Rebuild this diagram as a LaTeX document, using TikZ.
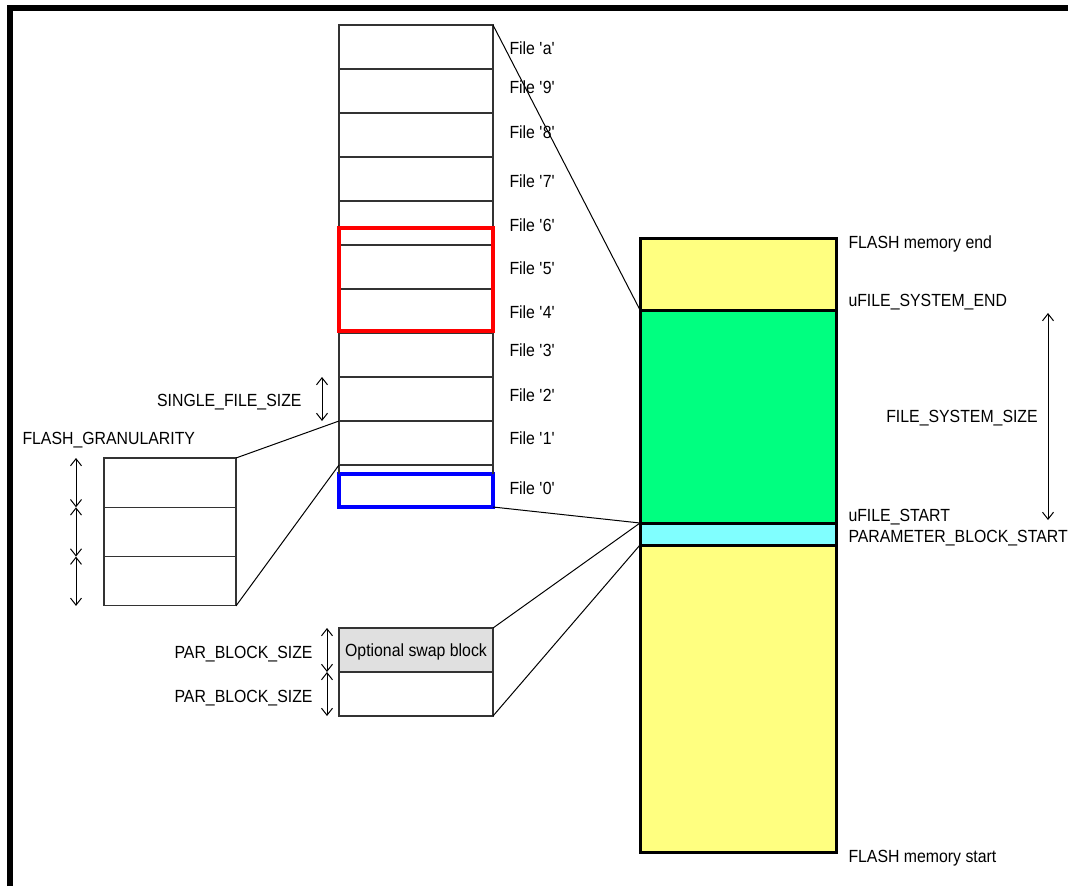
\documentclass[tikz,border=0pt]{standalone}
\usepackage{fontspec}
\setmainfont{Liberation Sans}[FakeStretch=0.9]
\usetikzlibrary{arrows.meta}
\definecolor{memyellow}{RGB}{255,255,128}
\definecolor{memgreen}{RGB}{0,255,128}
\definecolor{memcyan}{RGB}{128,255,255}
\definecolor{swapgray}{RGB}{224,224,224}
\tikzset{
  lbl/.style={font=\fontsize{17.6}{20}\selectfont, inner sep=0pt, text height=12.6pt, text depth=0pt},
  cell/.style={draw=black!80, line width=1.1pt, outer sep=0pt, inner sep=0pt, minimum width=154pt, anchor=north west},
  region/.style={draw, line width=3pt, outer sep=0pt, inner sep=0pt, minimum width=196pt, anchor=north west},
  dim/.style={{Straight Barb[length=7pt,width=11pt]}-{Straight Barb[length=7pt,width=11pt]}, line width=1pt},
}

\begin{document}
\begin{tikzpicture}[x=1pt, y=-1pt, line width=1pt]
  \useasboundingbox (0,0) rectangle (1068,886);
  % Frame
  \draw[line width=5.5pt] (10,886) -- (10,8) -- (1068,8);

  % File column
  \foreach \n [count=\i from 0] in {a,9,8,7,6,5,4,3,2,1}
    \node[cell, minimum height=44pt] (f\n) at (339,25+44*\i) {};
  \node[cell, draw=blue, line width=3.2pt, minimum height=33pt] (f0) at (339,474) {};
  \draw[black!80, line width=1.1pt] (f1.south west) -- (f0.north west)
    (f1.south east) -- (f0.north east);
  \node[cell, draw=red, line width=3.2pt, minimum height=103pt] (sector) at (339,228) {};

  % File labels
  \foreach \n/\y in {a/48,9/87,8/132,7/181,6/225,5/268,4/312,3/350,2/395,1/438,0/488}
    \node[lbl, anchor=west] (l\n) at (509,\y) {File \textquotesingle\n\textquotesingle};

  % Flash granularity blocks
  \foreach \i in {0,1,2} {
    \node[cell, minimum width=132pt, minimum height=49.3pt] (g\i) at (104,458+49.3*\i) {};
    \draw[dim] ([xshift=-28pt]g\i.north west) -- ([xshift=-28pt]g\i.south west);
  }
  \draw (g0.north east) -- (f1.north west);
  \draw (g2.south east) -- (f1.south west);
  \node[lbl, anchor=west] (granlbl) at (22,438) {FLASH\_GRANULARITY};

  \draw[dim] ([xshift=-17pt]f2.north west) -- ([xshift=-17pt]f2.south west);
  \node[lbl, anchor=east] (singlelbl) at (302,400) {SINGLE\_FILE\_SIZE};

  % Parameter blocks
  \node[cell, lbl, fill=swapgray, minimum height=44pt] (swap) at (339,628) {Optional swap block};
  \node[cell, minimum height=44pt] (parblk) at (339,672) {};
  \draw[dim] ([xshift=-12pt]swap.north west) -- ([xshift=-12pt]swap.south west);
  \draw[dim] ([xshift=-12pt]parblk.north west) -- ([xshift=-12pt]parblk.south west);
  \node[lbl, anchor=east] (swaplbl) at (313,652) {PAR\_BLOCK\_SIZE};
  \node[lbl, anchor=east] (parlbl) at (313,696) {PAR\_BLOCK\_SIZE};

  % FLASH memory
  \node[region, fill=memyellow, minimum height=72pt] (flashtop) at (640,238) {};
  \node[region, fill=memgreen, minimum height=213pt] (fsys) at (640,310) {};
  \node[region, fill=memcyan, minimum height=22pt] (param) at (640,523) {};
  \node[region, fill=memyellow, minimum height=307pt] (flashlow) at (640,545) {};

  \draw (fa.north east) -- (fsys.north west);
  \draw (f0.south east) -- (param.north west);
  \draw (swap.north east) -- (param.north west);
  \draw (parblk.south east) -- (param.south west);

  % Memory labels
  \node[lbl, anchor=west] (memend) at (848,242) {FLASH memory end};
  \node[lbl, anchor=west] (fsend) at (848,300) {uFILE\_SYSTEM\_END};
  \node[lbl, anchor=west] (fsstart) at (848,515) {uFILE\_START};
  \node[lbl, anchor=west] (parstart) at (848,536) {PARAMETER\_BLOCK\_START};
  \node[lbl, anchor=west] (memstart) at (848,856) {FLASH memory start};
  \node[lbl] (fssize) at (962,416) {FILE\_SYSTEM\_SIZE};
  \coordinate (fstop) at (1048,313);
  \coordinate (fsbot) at (1048,520);
  \draw[dim] (fstop) -- (fsbot);
\end{tikzpicture}
\end{document}
